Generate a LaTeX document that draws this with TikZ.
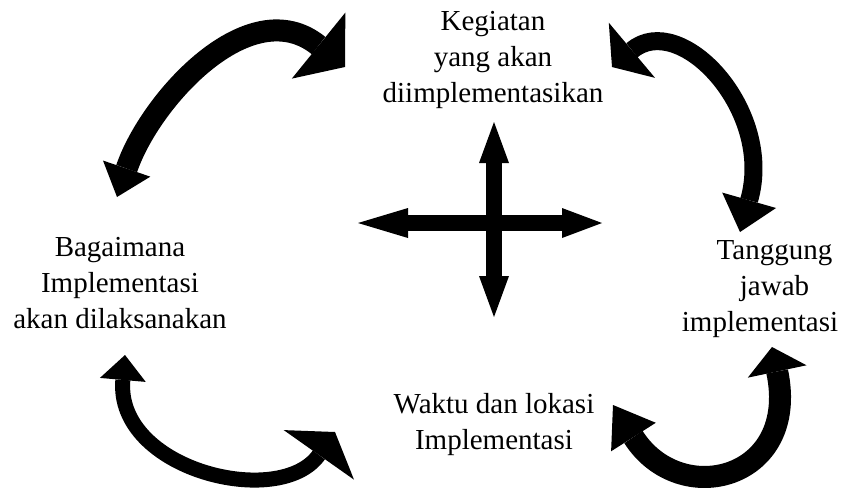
\documentclass[tikz,border=0pt]{standalone}
\usepackage{fontspec}
\setmainfont{Liberation Serif}
\usetikzlibrary{arrows.meta}
\tikzset{
  caption/.style={align=center,inner sep=0pt,font=\fontsize{29}{36}\selectfont},
  cross/.style={draw=black,line width=16pt},
  swing/.style={draw=black,line width=#1}
}
\begin{document}
\begin{tikzpicture}[x=1pt,y=-1pt]
  \useasboundingbox (0,0) rectangle (846,490);
  % the four topics
  \node[caption] (kegiatan) at (493,60) {Kegiatan\\yang akan\\diimplementasikan};
  \node[caption] (bagaimana) at (120,283) {Bagaimana\\Implementasi\\akan dilaksanakan};
  \node[caption] (tanggung) at (760,289) {\hspace*{29pt}Tanggung\\\hspace*{29pt}jawab\\implementasi};
  \node[caption] (waktu) at (494,425) {Waktu dan lokasi\\Implementasi};
  % centre cross
  \coordinate (hub) at (494,223);
  \coordinate (hubN) at (494,122);
  \coordinate (hubS) at (494,317);
  \coordinate (hubW) at (358,223);
  \coordinate (hubE) at (602,223);
  \draw[cross,{Triangle[length=41pt,width=30pt,line width=0pt]}-{Triangle[length=41pt,width=30pt,line width=0pt]}] (hubN) -- (hubS);
  \draw[cross,{Triangle[length=50pt,width=30pt,line width=0pt]}-{Triangle[length=40pt,width=30pt,line width=0pt]}] (hubW) -- (hubE);
  % curved arrows between the topics
  \coordinate (bk) at (117,197);
  \coordinate (kb) at (345,67);
  \coordinate (kt) at (612,67);
  \coordinate (tk) at (740,232);
  \coordinate (bw) at (125,355);
  \coordinate (wb) at (335,432);
  \coordinate (wt) at (613,405);
  \coordinate (tw) at (772,347);
  \draw[swing=22pt,{Triangle[length=30pt,width=50pt,line width=0pt]}-{Triangle[length=34pt,width=85pt,line width=0pt]}]
    (bk) .. controls (150,100) and (250,-10) .. (kb);
  \draw[swing=18pt,{Triangle[length=26pt,width=72pt,line width=0pt]}-{Triangle[length=33pt,width=56pt,line width=0pt]}]
    (kt) .. controls (680,10) and (775,110) .. (tk);
  \draw[swing=15pt,{Triangle[length=25pt,width=46pt,line width=0pt]}-{Triangle[length=28pt,width=86pt,line width=0pt]}]
    (bw) .. controls (115,470) and (280,510) .. (wb);
  \draw[swing=22pt,{Triangle[length=38pt,width=53pt,line width=0pt]}-{Triangle[length=25pt,width=60pt,line width=0pt]}]
    (wt) .. controls (680,510) and (800,480) .. (tw);
\end{tikzpicture}
\end{document}
